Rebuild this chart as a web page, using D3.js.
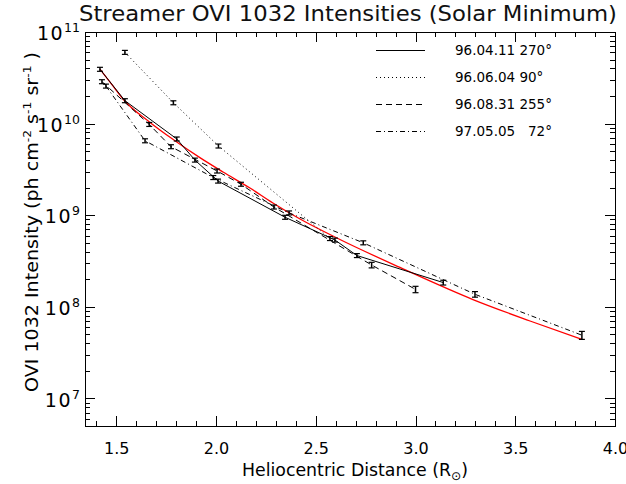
<!DOCTYPE html>
<html lang="en">
<head>
<meta charset="UTF-8">
<title>Streamer OVI 1032 Intensities (Solar Minimum)</title>
<script src="https://d3js.org/d3.v7.min.js"></script>
<style>
  body { margin: 0; background: #fff; }
  svg { display: block; font-family: "DejaVu Sans", sans-serif; }
</style>
</head>
<body>
<div id="chart"></div>
<script>
// 96.04.11 270 deg  (solid)
const solidR   = [1.418, 1.543, 1.803, 1.894, 2.010, 2.346, 2.596, 2.706, 3.139];
const solidI   = [3.92e10, 1.78e10, 6.8e9, 4.0e9, 2.36e9, 9.5e8, 5.36e8, 3.63e8, 1.84e8];
const solidErr = [0.05, 0.05, 0.05, 0.05, 0.05, 0.05, 0.05, 0.05, 0.06];

// 96.06.04 90 deg  (dotted)
const dottedR   = [1.543, 1.786, 2.012, 2.571];
const dottedI   = [6.0e10, 1.69e10, 5.7e9, 5.57e8];
const dottedErr = [0.05, 0.05, 0.05, 0.05];

// 96.08.31 255 deg  (dashed)
const dashedR   = [1.428, 1.665, 1.774, 2.005, 2.125, 2.290, 2.780, 3.000];
const dashedI   = [2.87e10, 9.8e9, 5.6e9, 3.04e9, 2.18e9, 1.23e9, 2.86e8, 1.55e8];
const dashedErr = [0.05, 0.05, 0.05, 0.05, 0.05, 0.05, 0.07, 0.08];

// 97.05.05 72 deg  (dash dot)
const dashdotR   = [1.448, 1.644, 1.986, 2.366, 2.738, 3.298, 3.834];
const dashdotI   = [2.57e10, 6.5e9, 2.58e9, 1.06e9, 5.0e8, 1.37e8, 4.9e7];
const dashdotErr = [0.05, 0.05, 0.05, 0.05, 0.05, 0.07, 0.1];

// red fit curve
const fitR = [1.418, 1.478, 1.538, 1.669, 1.794, 1.919, 2.035, 2.170, 2.285, 2.421, 2.621, 2.922, 3.288, 3.574, 3.834];
const fitI = [3.94e10, 2.67e10, 1.81e10, 1.03e10, 6.5e9, 4.25e9, 2.96e9, 1.98e9, 1.36e9, 9.08e8, 5.43e8, 2.69e8, 1.20e8, 7.0e7, 4.4e7];

const legendLabels = ["96.04.11 270°", "96.06.04 90°", "96.08.31 255°", "97.05.05   72°"];
const dashes = [null, "1,3", "6,4", "5,3,1,3"];
const xTicks = [1.5, 2.0, 2.5, 3.0, 3.5, 4.0];
const yTicks = [1e7, 1e8, 1e9, 1e10, 1e11];

const series = [
    { r: solidR, i: solidI, err: solidErr },
    { r: dottedR, i: dottedI, err: dottedErr },
    { r: dashedR, i: dashedI, err: dashedErr },
    { r: dashdotR, i: dashdotI, err: dashdotErr }
];

const width = 626, height = 484;
const plotL = 85, plotR = 615, plotT = 32, plotB = 426;

const x = d3.scaleLinear().domain([1.343, 4.0]).range([plotL, plotR]);
const y = d3.scaleLog().domain([5e6, 1e11]).range([plotB, plotT]);

const svg = d3.select("#chart").append("svg")
    .attr("width", width)
    .attr("height", height);

// minor tick positions
const xMinor = d3.range(14, 41).filter(d => d % 5 !== 0).map(d => d / 10);
const yMinor = [];
for (let k = 6; k <= 10; k++) {
    for (let m = 2; m <= 9; m++) {
        const v = m * Math.pow(10, k);
        if (v >= 5e6 && v < 1e11) yMinor.push(v);
    }
}

function styleAxis(g) {
    g.selectAll("path, line").attr("stroke", "#000").attr("shape-rendering", "crispEdges");
}

// bottom axis
svg.append("g").attr("transform", `translate(0,${plotB})`)
    .call(d3.axisBottom(x).tickValues(xMinor).tickSize(-5).tickFormat(""))
    .call(styleAxis);
svg.append("g").attr("transform", `translate(0,${plotB})`)
    .call(d3.axisBottom(x).tickValues(xTicks).tickSizeInner(-10).tickSizeOuter(0)
        .tickPadding(17).tickFormat(d3.format(".1f")))
    .call(styleAxis)
    .call(g => g.selectAll("text").attr("font-size", 16).attr("fill", "#000")
        .attr("font-family", "DejaVu Sans"));

// top axis
svg.append("g").attr("transform", `translate(0,${plotT})`)
    .call(d3.axisTop(x).tickValues(xMinor).tickSize(-5).tickFormat(""))
    .call(styleAxis);
svg.append("g").attr("transform", `translate(0,${plotT})`)
    .call(d3.axisTop(x).tickValues(xTicks).tickSizeInner(-10).tickSizeOuter(0).tickFormat(""))
    .call(styleAxis);

// left axis
svg.append("g").attr("transform", `translate(${plotL},0)`)
    .call(d3.axisLeft(y).tickValues(yMinor).tickSize(-5).tickFormat(""))
    .call(styleAxis);
svg.append("g").attr("transform", `translate(${plotL},0)`)
    .call(d3.axisLeft(y).tickValues(yTicks).tickSizeInner(-10).tickSizeOuter(0)
        .tickPadding(5).tickFormat(() => "10"))
    .call(styleAxis)
    .call(g => g.selectAll(".tick text")
        .attr("font-size", 19).attr("fill", "#000").attr("font-family", "DejaVu Sans")
        .attr("dy", "0.4em").attr("letter-spacing", 1.5)
        .each(function(d) {
            d3.select(this).append("tspan")
                .attr("dy", -8)
                .attr("font-size", 12.5)
                .attr("letter-spacing", 0)
                .text(Math.round(Math.log10(d)));
        }));

// right axis
svg.append("g").attr("transform", `translate(${plotR},0)`)
    .call(d3.axisRight(y).tickValues(yMinor).tickSize(-5).tickFormat(""))
    .call(styleAxis);
svg.append("g").attr("transform", `translate(${plotR},0)`)
    .call(d3.axisRight(y).tickValues(yTicks).tickSizeInner(-10).tickSizeOuter(0).tickFormat(""))
    .call(styleAxis);

// red fit line
const line = d3.line().x(d => x(d[0])).y(d => y(d[1])).curve(d3.curveMonotoneX);
svg.append("path")
    .datum(fitR.map((r, k) => [r, fitI[k]]))
    .attr("d", line)
    .attr("fill", "none")
    .attr("stroke", "#ff0000")
    .attr("stroke-width", 1.3);

// data series with error bars
const straight = d3.line().x(d => x(d[0])).y(d => y(d[1]));
series.forEach((s, n) => {
    const pts = s.r.map((r, k) => [r, s.i[k], s.err[k]]);
    svg.append("path")
        .datum(pts)
        .attr("d", straight)
        .attr("fill", "none")
        .attr("stroke", "#000")
        .attr("stroke-width", 1)
        .attr("stroke-dasharray", dashes[n]);

    const eb = svg.append("g").selectAll("g").data(pts).join("g");
    eb.append("line")
        .attr("x1", d => x(d[0])).attr("x2", d => x(d[0]))
        .attr("y1", d => y(d[1] * (1 + d[2]))).attr("y2", d => y(d[1] * (1 - d[2])))
        .attr("stroke", "#000").attr("stroke-width", 1.5);
    eb.append("line")
        .attr("x1", d => x(d[0]) - 3).attr("x2", d => x(d[0]) + 3)
        .attr("y1", d => y(d[1] * (1 + d[2]))).attr("y2", d => y(d[1] * (1 + d[2])))
        .attr("stroke", "#000").attr("stroke-width", 1.2);
    eb.append("line")
        .attr("x1", d => x(d[0]) - 3).attr("x2", d => x(d[0]) + 3)
        .attr("y1", d => y(d[1] * (1 - d[2]))).attr("y2", d => y(d[1] * (1 - d[2])))
        .attr("stroke", "#000").attr("stroke-width", 1.2);
});

// legend
const legend = svg.append("g");
legendLabels.forEach((label, n) => {
    const ly = 50.5 + n * 27;
    legend.append("line")
        .attr("x1", 376).attr("x2", 425).attr("y1", ly).attr("y2", ly)
        .attr("stroke", "#000").attr("stroke-width", 1)
        .attr("stroke-dasharray", dashes[n]);
    legend.append("text")
        .attr("x", 455).attr("y", ly + 4.5)
        .attr("font-size", 13.5)
        .attr("fill", "#000")
        .style("white-space", "pre")
        .text(label);
});

// title
svg.append("text")
    .attr("x", 348).attr("y", 21)
    .attr("text-anchor", "middle")
    .attr("font-size", 22)
    .attr("fill", "#111")
    .attr("textLength", 538)
    .attr("lengthAdjust", "spacingAndGlyphs")
    .text("Streamer OVI 1032 Intensities (Solar Minimum)");

// x axis title
const xt = svg.append("text")
    .attr("x", 355).attr("y", 476)
    .attr("text-anchor", "middle")
    .attr("font-size", 17)
    .attr("textLength", 226)
    .attr("lengthAdjust", "spacingAndGlyphs")
    .text("Heliocentric Distance (R");
xt.append("tspan").attr("dy", 4).attr("font-size", 12).text("⊙");
xt.append("tspan").attr("dy", -4).text(")");

// y axis title
const yt = svg.append("text")
    .attr("transform", "translate(38,222) rotate(-90)")
    .attr("text-anchor", "middle")
    .attr("font-size", 17)
    .attr("textLength", 340)
    .attr("lengthAdjust", "spacingAndGlyphs")
    .style("white-space", "pre")
    .text("OVI 1032 Intensity (ph cm");
yt.append("tspan").attr("dy", -7).attr("font-size", 11).text("-2");
yt.append("tspan").attr("dy", 7).text(" s");
yt.append("tspan").attr("dy", -7).attr("font-size", 11).text("-1");
yt.append("tspan").attr("dy", 7).text(" sr");
yt.append("tspan").attr("dy", -7).attr("font-size", 11).text("-1");
yt.append("tspan").attr("dy", 7).text(" )");
</script>
</body>
</html>
